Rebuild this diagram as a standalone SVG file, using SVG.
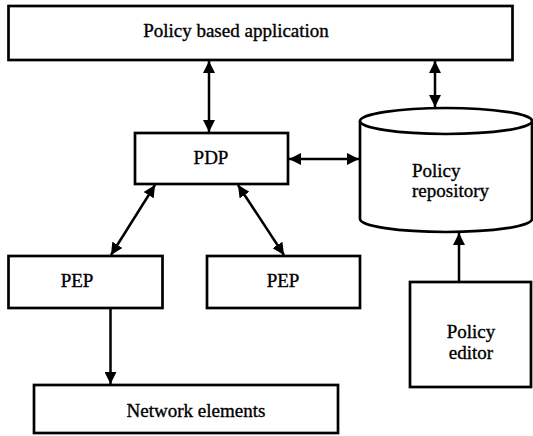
<svg xmlns="http://www.w3.org/2000/svg" width="533" height="436" viewBox="0 0 533 436">
<style>
.box{fill:#fff;stroke:#000;stroke-width:2.7}
.con{stroke:#000;stroke-width:2.5;fill:none}
text{font-family:'Liberation Serif','Times New Roman',serif;font-size:19px;fill:#000;stroke:#000;stroke-width:0.35;text-anchor:middle}
</style>
<defs>
<marker id="ah" markerUnits="userSpaceOnUse" markerWidth="13" markerHeight="12" refX="12" refY="6" orient="auto-start-reverse" viewBox="0 0 13 12">
<path d="M0,0 L12,6 L0,12 z" fill="#000"/>
</marker>
</defs>
<rect width="533" height="436" fill="#fff"/>
<g id="app">
<rect class="box" x="8.5" y="6" width="504" height="54"/>
<text x="236" y="37">Policy based application</text>
</g>
<g id="pdp">
<rect class="box" x="135" y="133" width="153" height="51"/>
<text x="211" y="164">PDP</text>
</g>
<g id="repository">
<path class="box" d="M360,121 L360,219 A86,13 0 0 0 532,219 L532,121"/>
<ellipse class="box" cx="446" cy="121" rx="86" ry="13"/>
<text x="412" y="177" style="text-anchor:start">Policy</text>
<text x="412" y="197" style="text-anchor:start">repository</text>
</g>
<g id="pep1">
<rect class="box" x="8.5" y="256" width="154" height="52"/>
<text x="77" y="287">PEP</text>
</g>
<g id="pep2">
<rect class="box" x="207" y="256" width="153" height="52"/>
<text x="283" y="287">PEP</text>
</g>
<g id="network">
<rect class="box" x="34" y="385" width="304" height="48"/>
<text x="196" y="417">Network elements</text>
</g>
<g id="editor">
<rect class="box" x="410" y="282" width="121" height="105"/>
<text x="471" y="338">Policy</text>
<text x="471" y="359">editor</text>
</g>
<g id="connectors">
<line class="con" x1="209" y1="61" x2="209" y2="132" marker-start="url(#ah)" marker-end="url(#ah)"/>
<line class="con" x1="435" y1="61" x2="435" y2="107" marker-start="url(#ah)" marker-end="url(#ah)"/>
<line class="con" x1="289" y1="159" x2="359" y2="159" marker-start="url(#ah)" marker-end="url(#ah)"/>
<line class="con" x1="155" y1="185" x2="111" y2="255" marker-start="url(#ah)" marker-end="url(#ah)"/>
<line class="con" x1="238" y1="185" x2="284" y2="255" marker-start="url(#ah)" marker-end="url(#ah)"/>
<line class="con" x1="110.5" y1="309" x2="110.5" y2="384" marker-end="url(#ah)"/>
<line class="con" x1="459" y1="281" x2="459" y2="233" marker-end="url(#ah)"/>
</g>
</svg>
